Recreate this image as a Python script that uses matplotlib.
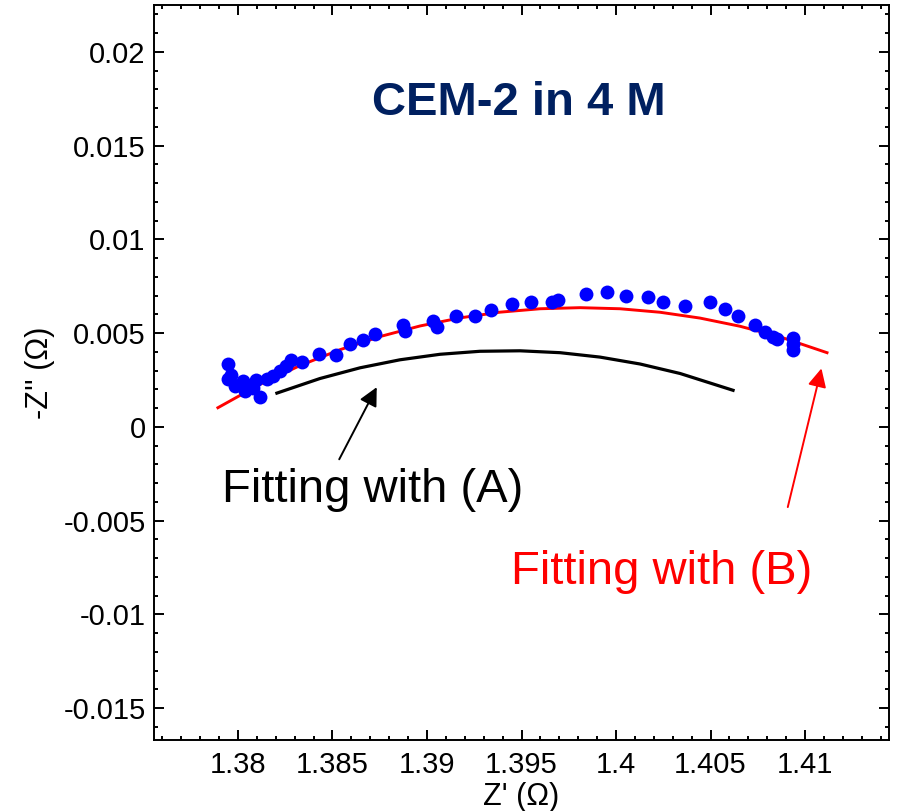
import matplotlib
matplotlib.use("Agg")
import matplotlib.pyplot as plt
from matplotlib.ticker import MultipleLocator, FuncFormatter

plt.rcParams['font.family'] = ['Liberation Sans', 'DejaVu Sans']
plt.rcParams['axes.unicode_minus'] = False

# measured impedance points (Z', -Z'')
z_re = [1.37949, 1.37961, 1.37949, 1.37984, 1.38025, 1.38037, 1.38081, 1.38095,
        1.38116, 1.38152, 1.38184, 1.38222, 1.38254, 1.38279, 1.38337, 1.38430,
        1.38519, 1.38593, 1.38663, 1.38725, 1.38875, 1.38884, 1.39030, 1.39054,
        1.39153, 1.39254, 1.39339, 1.39448, 1.39550, 1.39660, 1.39695, 1.39840,
        1.39954, 1.40053, 1.40171, 1.40250, 1.40365, 1.40497, 1.40577, 1.40647,
        1.40735, 1.40788, 1.40832, 1.40850, 1.40935, 1.40938, 1.40935]
z_im = [0.003367, 0.00278, 0.00255, 0.002156, 0.002423, 0.001889, 0.00207, 0.002513,
        0.00159, 0.00255, 0.00269, 0.002956, 0.003223, 0.00358, 0.003436, 0.0039,
        0.003847, 0.004418, 0.004648, 0.004968, 0.005448, 0.005091, 0.005624, 0.005304,
        0.005891, 0.005891, 0.006211, 0.006531, 0.006676, 0.00666, 0.006782, 0.007065,
        0.007209, 0.006996, 0.006905, 0.00666, 0.006462, 0.00666, 0.006286, 0.005891,
        0.005448, 0.005059, 0.004792, 0.004685, 0.004739, 0.004434, 0.004077]

# fit with model (B)
fit_b_re = [1.37894, 1.38116, 1.38328, 1.38540, 1.38751, 1.38963, 1.39175, 1.39386,
            1.39598, 1.39810, 1.40021, 1.40233, 1.40444, 1.40656, 1.40868, 1.41116]
fit_b_im = [0.001019, 0.002263, 0.003266, 0.004114, 0.004813, 0.005379, 0.005811, 0.006115,
            0.006297, 0.006355, 0.006297, 0.00611, 0.0058, 0.005363, 0.004797, 0.003954]

# fit with model (A)
fit_a_re = [1.38206, 1.38434, 1.38646, 1.38857, 1.39069, 1.39280, 1.39492, 1.39704,
            1.39915, 1.40127, 1.40339, 1.40619]
fit_a_im = [0.001798, 0.002577, 0.003148, 0.003575, 0.003869, 0.004029, 0.004055, 0.003954,
            0.003719, 0.003351, 0.002844, 0.001948]

fig = plt.figure(figsize=(8.98, 8.11), dpi=100)
ax = fig.add_axes([0.1715, 0.0876, 0.8185, 0.9063])

ax.plot(fit_b_re, fit_b_im, color='red', lw=2.1, zorder=2)
ax.plot(fit_a_re, fit_a_im, color='black', lw=2.3, zorder=2)
ax.plot(z_re, z_im, 'o', color='#0000FF', ms=10, mec='none', zorder=3)

ax.set_xlim(1.37556, 1.41444)
ax.set_ylim(-0.0167, 0.0225)

ax.xaxis.set_major_locator(MultipleLocator(0.005))
ax.xaxis.set_minor_locator(MultipleLocator(0.001))
ax.yaxis.set_major_locator(MultipleLocator(0.005))
ax.yaxis.set_minor_locator(MultipleLocator(0.001))
fmt = FuncFormatter(lambda v, p: '0' if abs(v) < 1e-12 else '%g' % round(v, 6))
ax.xaxis.set_major_formatter(fmt)
ax.yaxis.set_major_formatter(fmt)

ax.tick_params(which='both', direction='in', top=True, right=True, width=1.4)
ax.tick_params(which='major', length=7, labelsize=21)
ax.tick_params(which='minor', length=3.2)
ax.tick_params(axis='x', pad=8)
ax.tick_params(axis='y', pad=6)
for s in ax.spines.values():
    s.set_linewidth(1.4)

ax.set_xlabel("Z' (Ω)", fontsize=22, labelpad=2)
ax.set_ylabel("-Z'' (Ω)", fontsize=22, labelpad=6)

ax.text(1.39487, 0.017295, 'CEM-2 in 4 M', color='#002060', fontsize=34,
        fontweight='bold', ha='center', va='center')

ax.annotate('', xy=(1.38741, 0.002246), xytext=(1.38529, -0.001863),
            arrowprops=dict(arrowstyle='-|>', color='black', lw=1.4, mutation_scale=28))
ax.text(1.37915, -0.00336, 'Fitting with (A)', fontsize=34, color='black',
        ha='left', va='center')

ax.annotate('', xy=(1.41090, 0.00326), xytext=(1.40905, -0.004424),
            arrowprops=dict(arrowstyle='-|>', color='red', lw=1.4, mutation_scale=28))
ax.text(1.39444, -0.00773, 'Fitting with (B)', fontsize=34, color='red',
        ha='left', va='center')

fig.savefig('out.png', dpi=100)
